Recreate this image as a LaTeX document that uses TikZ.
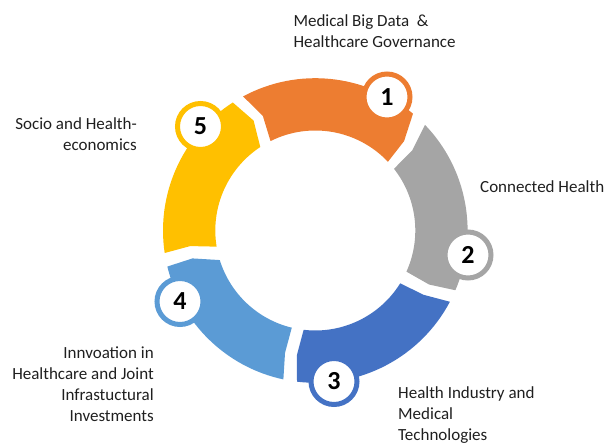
\documentclass[tikz,border=0pt]{standalone}
\usepackage{fontspec}
\setmainfont{Carlito}
\definecolor{cOrange}{HTML}{ED7D31}
\definecolor{cGray}{HTML}{A5A5A5}
\definecolor{cBlue}{HTML}{4472C4}
\definecolor{cLight}{HTML}{5B9BD5}
\definecolor{cYellow}{HTML}{FFC000}
\newcommand{\rOut}{152.3pt}
\newcommand{\rMid}{126pt}
\newcommand{\rIn}{100pt}
% colour, ccw-end outer/notch/inner angles, cw-end outer/tip/inner angles
\newcommand{\ringseg}[7]{%
  \fill[#1] ([shift={(C)}]#2:\rOut) arc[start angle=#2, end angle=#5, radius=\rOut]
    -- ([shift={(C)}]#6:\rMid) -- ([shift={(C)}]#7:\rIn)
    arc[start angle=#7, end angle=#4, radius=\rIn]
    -- ([shift={(C)}]#3:\rMid) -- cycle;}
\tikzset{
  labeltext/.style={font=\fontsize{17}{21}\selectfont, inner sep=0pt, text=black!88},
  numdisc/.style={circle, fill=white, draw=#1, line width=5pt, minimum size=46pt,
    inner sep=0pt, font=\fontsize{26}{26}\selectfont\bfseries, text=black},
}
\begin{document}
\begin{tikzpicture}[x=1pt,y=1pt]
\useasboundingbox (0,0) rectangle (605,444);
\coordinate (C) at (315.3,213.5);
% ring segments
\ringseg{cOrange}{118.3}{114.6}{116.6}{50.1}{45.2}{43.4}
\ringseg{cGray}{43.9}{39.6}{38.1}{-23.1}{-25.4}{-24.3}
\ringseg{cBlue}{-27.9}{-30.7}{-31.9}{-96.9}{-98.4}{-96.7}
\ringseg{cLight}{-102.1}{-103.9}{-103.6}{-166.3}{-167.2}{-162.8}
\ringseg{cYellow}{188.5}{187.1}{189.3}{122.8}{119.3}{123.4}
% numbered discs
\node[numdisc=cOrange] (n1) at (387,347) {1};
\node[numdisc=cGray]   (n2) at (468,189) {2};
\node[numdisc=cBlue]   (n3) at (334,62.5) {3};
\node[numdisc=cLight]  (n4) at (180,142.5) {4};
\node[numdisc=cYellow] (n5) at (200.5,317.5) {5};
% labels
\node[labeltext, anchor=base west] (t1) at (293.3,417.3)
  {\begin{tabular}[t]{@{}l@{}}Medical Big Data~~\&\\Healthcare Governance\end{tabular}};
\node[labeltext, anchor=base west] (t2) at (480,251) {Connected Health};
\node[labeltext, anchor=base west] (t3) at (398,45)
  {\begin{tabular}[t]{@{}l@{}}Health Industry and\\Medical\\Technologies\end{tabular}};
\node[labeltext, anchor=base east] (t4) at (154,85)
  {\begin{tabular}[t]{@{}r@{}}Innvoation in\\Healthcare and Joint\\Infrastuctural\\Investments\end{tabular}};
\node[labeltext, anchor=base east] (t5) at (137,314)
  {\begin{tabular}[t]{@{}r@{}}Socio and Health-\\economics\end{tabular}};
\end{tikzpicture}
\end{document}
